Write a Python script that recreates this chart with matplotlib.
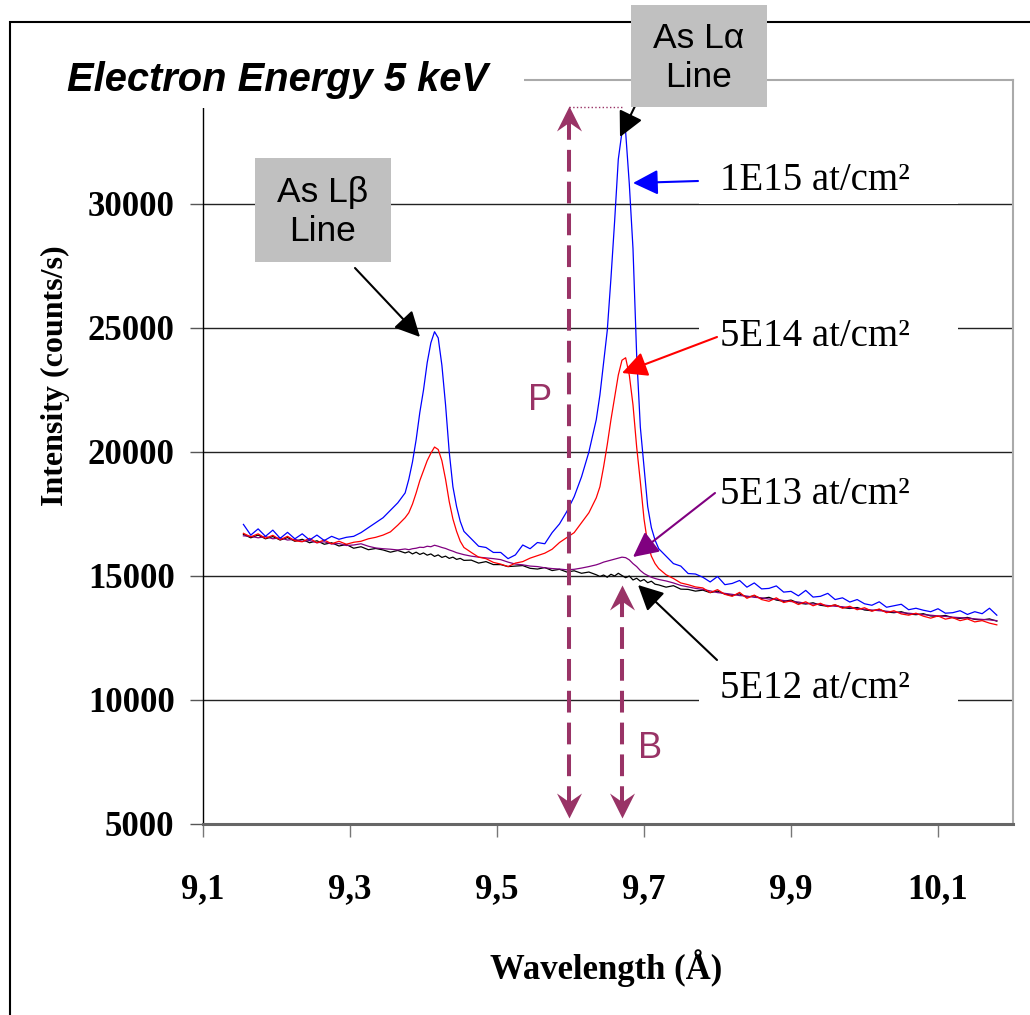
import matplotlib
matplotlib.use("Agg")
import matplotlib.pyplot as plt
from matplotlib.patches import Rectangle
from matplotlib.path import Path

W, H = 1030, 1015

# spectra, intensity in counts/s per wavelength step (Å)
wavelength = [
    9.155, 9.165, 9.175, 9.185, 9.195, 9.205, 9.215, 9.225, 9.235, 9.245,
    9.255, 9.265, 9.275, 9.285, 9.295, 9.305, 9.315, 9.325, 9.335,
    9.345, 9.355, 9.365, 9.375, 9.38, 9.385, 9.39, 9.395, 9.40, 9.405,
    9.41, 9.415, 9.42, 9.425, 9.43, 9.435, 9.44, 9.445, 9.45, 9.455,
    9.465, 9.475, 9.485, 9.495,
    9.505, 9.515, 9.525, 9.535, 9.545, 9.555, 9.565, 9.575, 9.585, 9.595,
    9.605, 9.615, 9.625, 9.635, 9.64, 9.645, 9.65, 9.655, 9.66, 9.665,
    9.67, 9.675, 9.68, 9.685, 9.69, 9.695, 9.70, 9.705, 9.71, 9.715,
    9.72, 9.73, 9.74, 9.75, 9.76, 9.77,
    9.78, 9.79, 9.80, 9.81, 9.82, 9.83, 9.84, 9.85, 9.86, 9.87,
    9.88, 9.89, 9.90, 9.91, 9.92, 9.93, 9.94, 9.95, 9.96, 9.97,
    9.98, 9.99, 10.00, 10.01, 10.02, 10.03, 10.04, 10.05, 10.06, 10.07,
    10.08, 10.09, 10.10, 10.11, 10.12, 10.13, 10.14, 10.15, 10.16, 10.17,
    10.18,
]

dose_1e15 = [
    17080, 16650, 16900, 16600, 16850, 16520, 16760, 16500, 16700, 16450,
    16650, 16430, 16600, 16480, 16560, 16600, 16750, 16950, 17150,
    17350, 17650, 17950, 18350, 18900, 19600, 20500, 21600, 22500, 23600,
    24400, 24850, 24600, 23500, 21900, 20000, 18600, 17800, 17200, 16800,
    16500, 16200, 16150, 15950,
    15950, 15700, 15850, 16250, 16100, 16350, 16300, 16750, 17100, 17600,
    18200, 19000, 20000, 21300, 22300, 23600, 24900, 27000, 29300, 31800,
    32900, 32900, 30800, 28200, 23900, 21000, 19400, 17800, 16950, 16450,
    16100, 15800, 15500, 15400, 15100, 15080,
    14950, 14760, 14980, 14650, 14700, 14820, 14550, 14720, 14480, 14500,
    14600, 14350, 14380, 14200, 14420, 14150, 14180, 14300, 14050, 14120,
    13950, 14050, 13880, 13820, 13960, 13740, 13800, 13860, 13640, 13700,
    13620, 13560, 13680, 13500, 13520, 13600, 13450, 13560, 13480, 13700,
    13420,
]

dose_5e14 = [
    16720, 16580, 16700, 16520, 16640, 16460, 16600, 16420, 16380, 16520,
    16340, 16450, 16300, 16400, 16280, 16360, 16400, 16500, 16560,
    16650, 16780, 17050, 17350, 17550, 17900, 18350, 18850, 19250, 19650,
    19950, 20200, 20100, 19650, 18900, 18000, 17300, 16800, 16400, 16150,
    15950, 15760, 15700, 15550,
    15480, 15380, 15520, 15580, 15720, 15820, 15920, 16080, 16350, 16550,
    16750, 17150, 17550, 18150, 18600, 19400, 20300, 21300, 22200, 23100,
    23700, 23800, 23100, 21900, 20200, 18800, 17300, 16300, 15800, 15500,
    15300, 15050, 14900, 14720, 14650, 14560,
    14520, 14330, 14450, 14260, 14180, 14340, 14100, 14230, 14050, 13980,
    14120, 13930, 14000, 13850, 13960, 13800, 13900, 13760, 13840, 13700,
    13780, 13640, 13720, 13580, 13670, 13520, 13600, 13470, 13420, 13500,
    13380, 13300, 13390, 13260, 13320, 13200, 13270, 13150, 13200, 13100,
    13030,
]

dose_5e13 = [
    16620, 16600, 16540, 16590, 16500, 16540, 16450, 16480, 16400, 16430,
    16340, 16380, 16290, 16310, 16230, 16250, 16300, 16200, 16130,
    16100, 16080, 16050, 16090, 16060, 16100, 16120, 16160, 16150, 16200,
    16180, 16240, 16200, 16150, 16110, 16050, 16000, 15940, 15900, 15860,
    15800, 15760, 15730, 15700,
    15660, 15560, 15480, 15450, 15400, 15380, 15330, 15300, 15280, 15250,
    15270, 15320, 15380, 15450, 15500, 15560, 15600, 15640, 15680, 15720,
    15760, 15740, 15650, 15500, 15380, 15220, 15100, 15020, 14950, 14900,
    14860, 14800, 14720, 14620, 14560, 14500,
    14460, 14400, 14330, 14300, 14260, 14210, 14190, 14140, 14120, 14070,
    14060, 14010, 13970, 13950, 13900, 13870, 13850, 13810, 13780, 13760,
    13720, 13690, 13660, 13630, 13600, 13580, 13550, 13520, 13500, 13470,
    13440, 13420, 13390, 13370, 13340, 13320, 13300, 13270, 13250, 13230,
    13200,
]

dose_5e12 = [
    16680, 16540, 16650, 16500, 16590, 16450, 16550, 16400, 16480, 16340,
    16420, 16280, 16340, 16210, 16270, 16120, 16180, 16060, 16110,
    16050, 15960, 16030, 15930, 15980, 15890, 15960, 15870, 15930, 15840,
    15890, 15790, 15850, 15750, 15800, 15710, 15760, 15670, 15710, 15630,
    15640, 15520, 15580, 15460,
    15460, 15380, 15400, 15420, 15310, 15280, 15340, 15220, 15270, 15160,
    15210, 15110, 15160, 15050, 14980, 15040, 14950, 15070, 15000, 15110,
    15020, 14930, 15000, 14840, 14910, 14790, 14860, 14730, 14790, 14670,
    14640, 14550, 14610, 14470, 14460, 14390,
    14430, 14330, 14390, 14270, 14220, 14280, 14150, 14200, 14090, 14140,
    14030, 13980, 14030, 13910, 13870, 13920, 13820, 13780, 13830, 13730,
    13690, 13730, 13630, 13600, 13650, 13550, 13520, 13560, 13470, 13440,
    13480, 13390, 13370, 13410, 13320, 13290, 13330, 13250, 13230, 13270,
    13180,
]

series_labels = ["5E12 at/cm²", "5E13 at/cm²", "5E14 at/cm²", "1E15 at/cm²"]
series_colors = ["#000000", "#800080", "#FF0000", "#0000FF"]

x_ticks = [9.1, 9.3, 9.5, 9.7, 9.9, 10.1]
x_tick_labels = ["9,1", "9,3", "9,5", "9,7", "9,9", "10,1"]
y_ticks = [5000, 10000, 15000, 20000, 25000, 30000]

# peak (P) and background (B) markers
p_pos = 9.598
b_pos = 9.670
p_top = 33950
b_top = 14650
marker_floor = 5230

PLUM = "#993366"
serif = "Liberation Serif"
sans = "Liberation Sans"


def fx(px):
    return px / W


def fy(py):
    return 1 - py / H


fig = plt.figure(figsize=(W / 100, H / 100), dpi=100)
ax = fig.add_axes([fx(203), fy(824), 810 / W, 744 / H])

for vals, col in zip([dose_5e12, dose_5e13, dose_5e14, dose_1e15], series_colors):
    ax.plot(wavelength, vals, color=col, lw=0.9, zorder=2)

ax.set_xlim(9.1, 10.202)
ax.set_ylim(5000, 35000)
ax.set_xticks(x_ticks)
ax.set_xticklabels(x_tick_labels)
ax.set_yticks(y_ticks)
ax.set_yticklabels([str(v) for v in y_ticks])
for lab in ax.get_xticklabels() + ax.get_yticklabels():
    lab.set_fontfamily(serif)
    lab.set_fontweight("bold")
    lab.set_fontsize(25)

ax.set_axisbelow(True)
ax.yaxis.grid(True, color="#222222", lw=1.0)
ax.tick_params(axis="y", direction="out", length=9.5, width=1, color="#555555", pad=11)
ax.tick_params(axis="x", direction="out", length=9.5, width=1, color="#777777", pad=26)

ax.spines["left"].set_color("black")
ax.spines["left"].set_linewidth(1.0)
ax.spines["bottom"].set_color("#666666")
ax.spines["bottom"].set_linewidth(2.2)
for s in ["top", "right"]:
    ax.spines[s].set_color("#aaaaaa")
    ax.spines[s].set_linewidth(1.5)

# axis titles
fig.text(fx(606), fy(968), "Wavelength (Å)", ha="center", va="center",
         fontfamily=serif, fontweight="bold", fontsize=25)
fig.text(fx(55), fy(376), "Intensity (counts/s)", ha="center", va="center",
         rotation=90, fontfamily=serif, fontweight="bold", fontsize=23)

# outer frame
ax.add_patch(Rectangle((fx(10), -0.05), 1.2, fy(22) + 0.05, transform=fig.transFigure,
                       fill=False, edgecolor="black", lw=1.5, clip_on=False, zorder=4.5))

# title on a white panel
ax.add_patch(Rectangle((fx(12), fy(108)), (524 - 12) / W, 58 / H, transform=fig.transFigure,
                       facecolor="white", edgecolor="none", clip_on=False, zorder=5))
ax.text(fx(67), fy(80), "Electron Energy 5 keV", transform=fig.transFigure,
        ha="left", va="center", fontfamily=sans, fontweight="bold", fontstyle="italic",
        fontsize=28.7, zorder=6)

# grey line callouts
for (x0, y0, x1, y1), txt in [((255, 158, 391, 262), "As Lβ\nLine"),
                              ((631, 5, 767, 107), "As Lα\nLine")]:
    ax.add_patch(Rectangle((fx(x0), fy(y1)), (x1 - x0) / W, (y1 - y0) / H,
                           transform=fig.transFigure, facecolor="#c0c0c0",
                           edgecolor="none", clip_on=False, zorder=5))
    ax.text(fx((x0 + x1) / 2), fy((y0 + y1) / 2 + 2), txt, transform=fig.transFigure,
            ha="center", va="center", fontfamily=sans, fontsize=25.5, linespacing=1.2,
            zorder=6)

# dose labels with white backing
label_rows = {"1E15 at/cm²": 181, "5E14 at/cm²": 336, "5E13 at/cm²": 495, "5E12 at/cm²": 688}
for txt in series_labels:
    yc = label_rows[txt]
    ax.add_patch(Rectangle((fx(699), fy(yc + 23)), (958 - 699) / W, 46 / H,
                           transform=fig.transFigure, facecolor="white",
                           edgecolor="none", clip_on=False, zorder=3))
    ax.text(fx(720), fy(yc), txt, transform=fig.transFigure, ha="left", va="center",
            fontfamily=serif, fontsize=28, zorder=6)

# pointer arrows (figure pixel coordinates, tail -> tip)
pointers = [
    ((355, 268), (420, 337), "black"),
    ((637, 102), (620, 137), "black"),
    ((698, 181), (633, 183), "#0000FF"),
    ((717, 337), (622, 373), "#FF0000"),
    ((715, 493), (633, 557), "#800080"),
    ((717, 660), (638, 585), "black"),
]
for (tx, ty), (hx, hy), col in pointers:
    ax.annotate("", xy=(hx, H - hy), xycoords="figure pixels",
                xytext=(tx, H - ty), textcoords="figure pixels",
                arrowprops=dict(arrowstyle="-|>,head_length=0.7,head_width=0.35",
                                mutation_scale=22, color=col, lw=1.5,
                                shrinkA=0, shrinkB=0),
                annotation_clip=False, zorder=4)

# P and B double arrows
head_up = Path([(0, 0), (0.5, -1), (0, -0.65), (-0.5, -1), (0, 0)],
               [Path.MOVETO, Path.LINETO, Path.LINETO, Path.LINETO, Path.CLOSEPOLY])
head_down = Path([(0, 0), (0.5, 1), (0, 0.65), (-0.5, 1), (0, 0)],
                 [Path.MOVETO, Path.LINETO, Path.LINETO, Path.LINETO, Path.CLOSEPOLY])
for xp, top in [(p_pos, p_top), (b_pos, b_top)]:
    ax.plot([xp, xp], [marker_floor + 400, top - 400], color=PLUM, lw=2.9,
            dashes=(5.4, 2.5), solid_capstyle="butt", dash_capstyle="butt",
            zorder=4, clip_on=False)
    ax.plot([xp], [top], marker=head_up, markersize=36, color=PLUM, mec="none",
            zorder=4, clip_on=False)
    ax.plot([xp], [marker_floor], marker=head_down, markersize=36, color=PLUM,
            mec="none", zorder=4, clip_on=False)

ax.plot([p_pos, b_pos], [p_top - 50, p_top - 50], color=PLUM, lw=1, ls=":", zorder=4)

ax.text(fx(540), fy(400), "P", transform=fig.transFigure, ha="center", va="center",
        fontfamily=sans, fontsize=26, color=PLUM, zorder=6)
ax.text(fx(650), fy(748), "B", transform=fig.transFigure, ha="center", va="center",
        fontfamily=sans, fontsize=26, color=PLUM, zorder=6)

fig.savefig("out.png", dpi=100, facecolor="white")
